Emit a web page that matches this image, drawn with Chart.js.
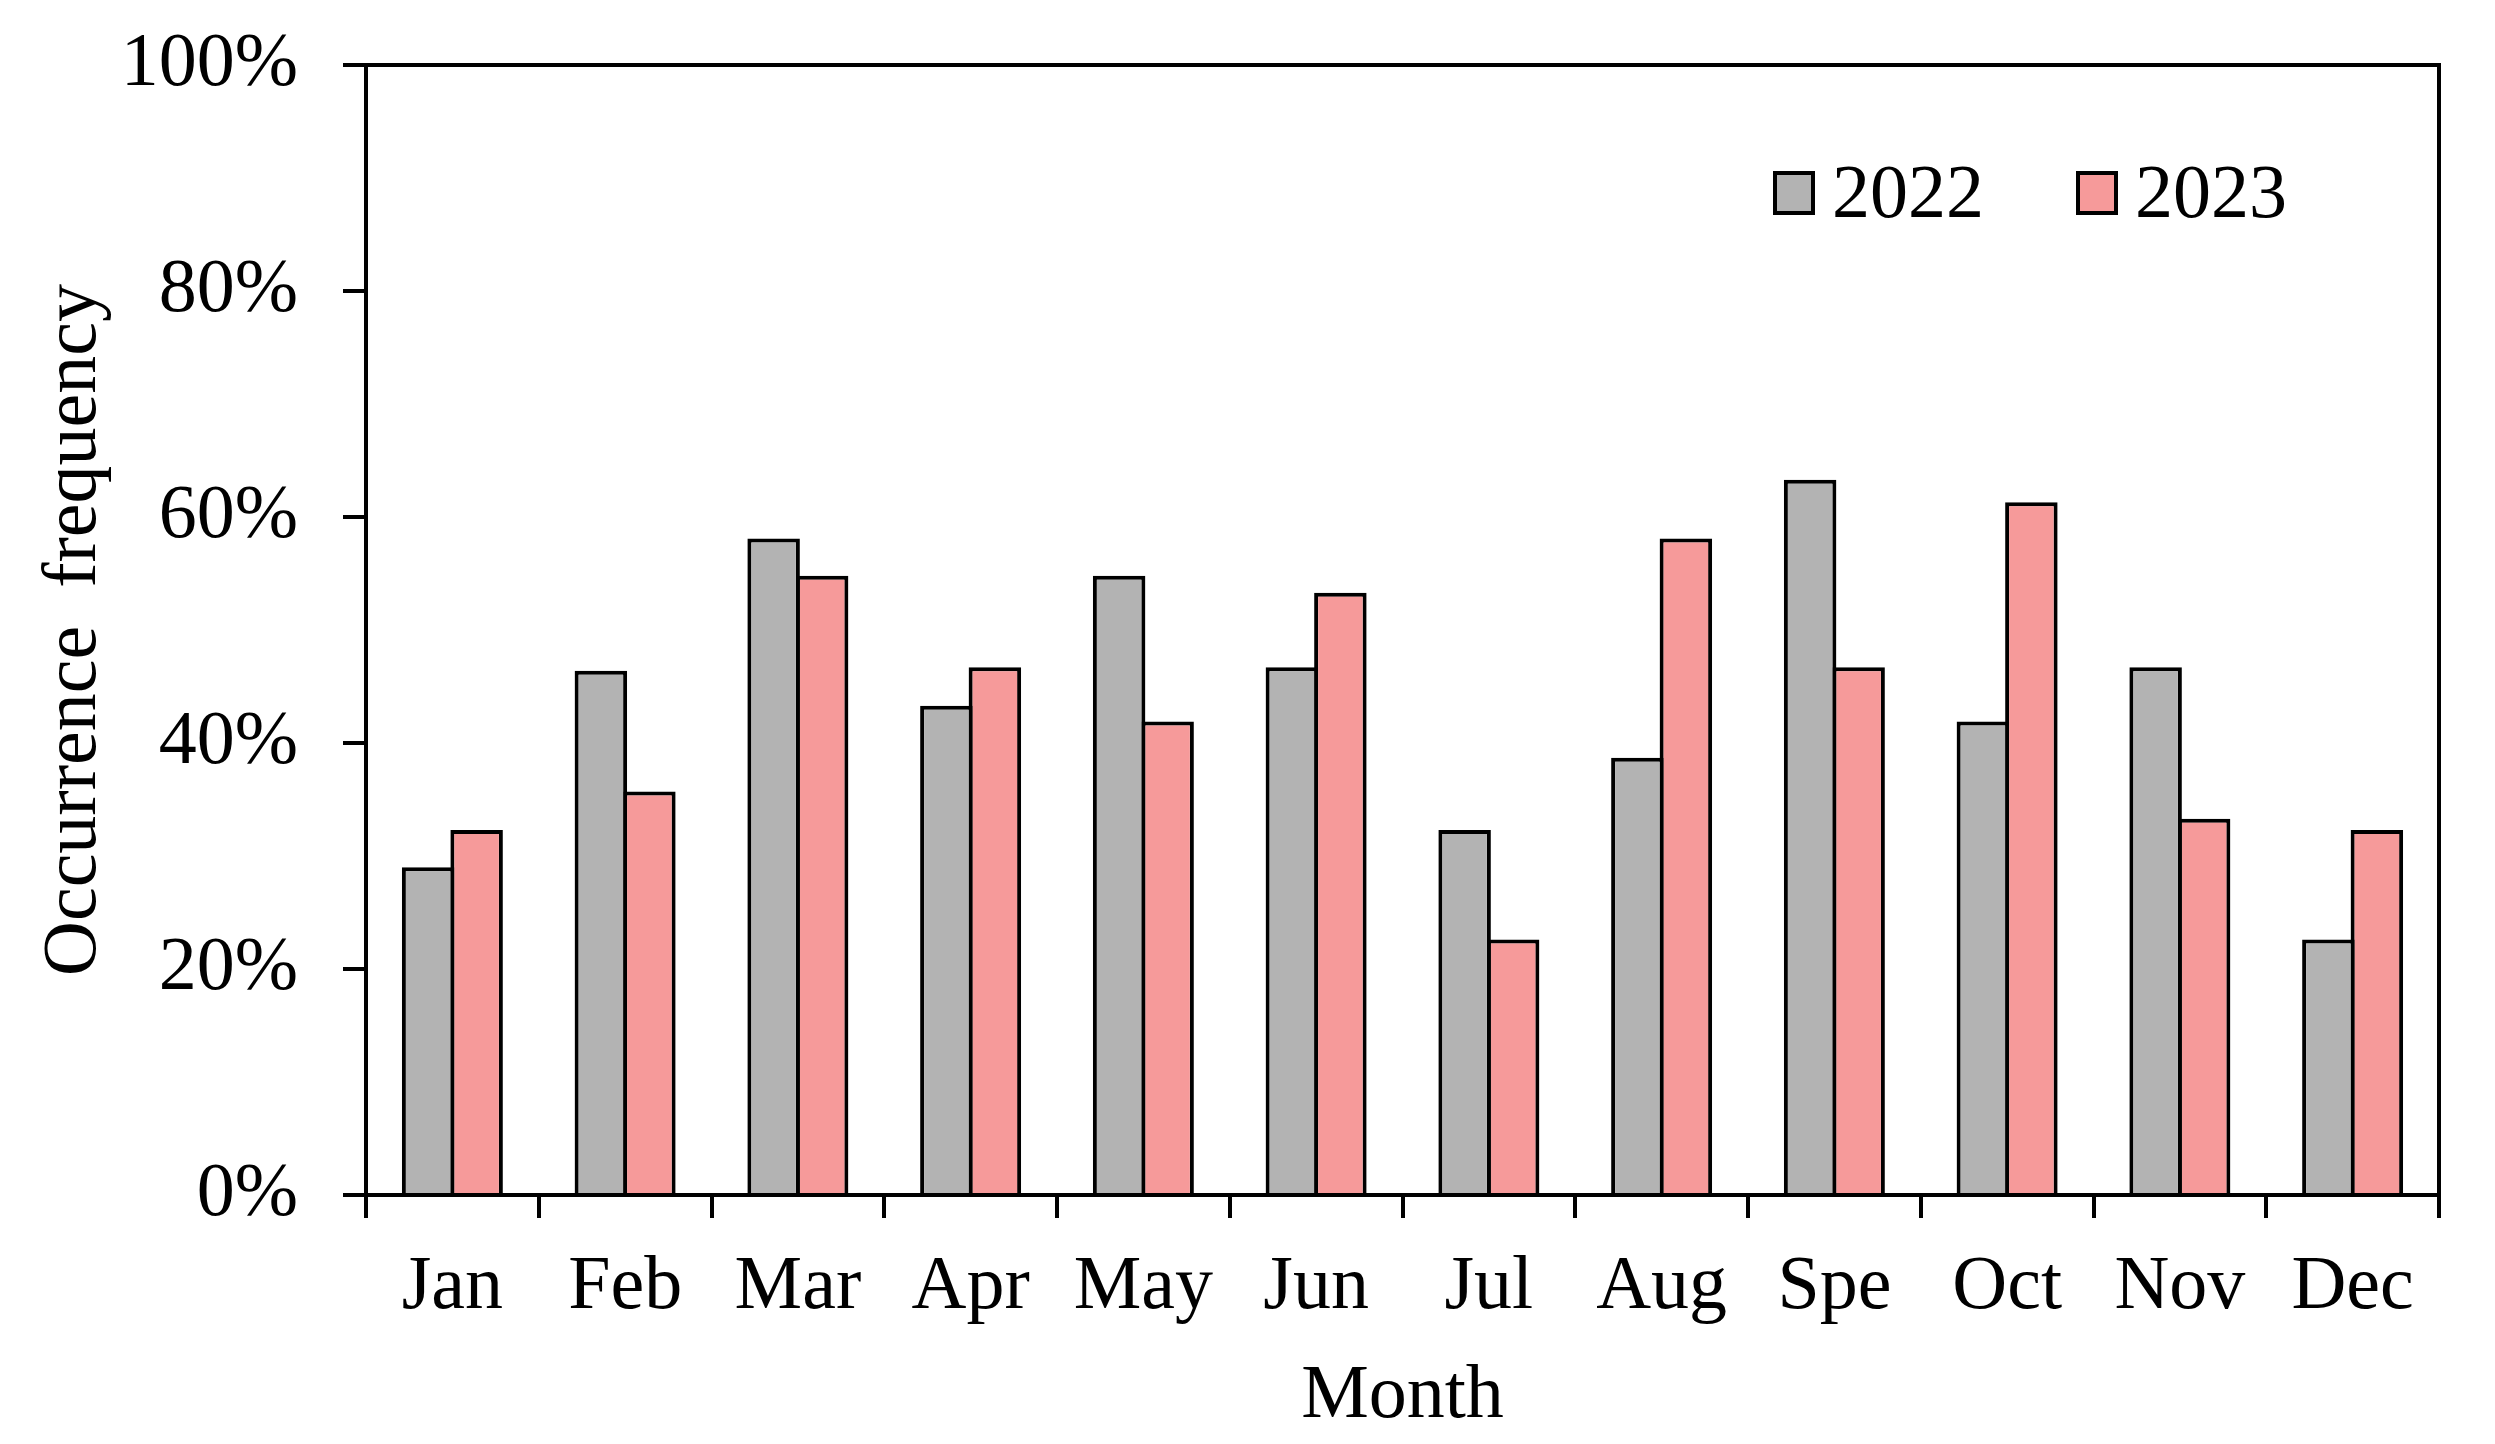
<!DOCTYPE html>
<html>
<head>
<meta charset="utf-8">
<script src="https://cdn.jsdelivr.net/npm/chart.js@4"></script>
<style>
  html, body { margin: 0; padding: 0; background: #fff; }
  canvas { display: block; }
</style>
</head>
<body>
<canvas id="c" width="2495" height="1444"></canvas>
<script>
// 月ごとの発生頻度（%）
const months = ["Jan", "Feb", "Mar", "Apr", "May", "Jun", "Jul", "Aug", "Spe", "Oct", "Nov", "Dec"];
const freq2022 = [29.0, 46.4, 58.1, 43.3, 54.8, 46.7, 32.3, 38.7, 63.3, 41.9, 46.7, 22.6];
const freq2023 = [32.3, 35.7, 54.8, 46.7, 41.9, 53.3, 22.6, 58.1, 46.7, 61.3, 33.3, 32.3];
const yTicks = [0, 20, 40, 60, 80, 100];

const FONT = "'Liberation Serif', 'Times New Roman', serif";
const SIZE = 76;

// 枠線（上・右）
const framePlugin = {
  id: "frame",
  afterDraw(chart) {
    const { ctx, chartArea: a } = chart;
    ctx.save();
    ctx.strokeStyle = "#000";
    ctx.lineWidth = 4;
    ctx.beginPath();
    ctx.moveTo(a.left - 2, a.top);
    ctx.lineTo(a.right, a.top);
    ctx.lineTo(a.right, a.bottom);
    ctx.stroke();
    ctx.restore();
  }
};

// 凡例（プロット内右上）
const legendPlugin = {
  id: "innerLegend",
  afterDraw(chart) {
    const { ctx, chartArea: a } = chart;
    const offsets = [666, 363];
    ctx.save();
    ctx.font = `${SIZE}px ${FONT}`;
    ctx.textBaseline = "alphabetic";
    chart.data.datasets.forEach((ds, i) => {
      const x = a.right - offsets[i];
      const y = a.top + 106;
      ctx.fillStyle = "#000";
      ctx.fillRect(x, y, 42, 44);
      ctx.fillStyle = ds.backgroundColor;
      ctx.fillRect(x + 4, y + 4, 34, 36);
      ctx.fillStyle = "#000";
      ctx.fillText(ds.label, x + 59, a.top + 152);
    });
    ctx.restore();
  }
};

new Chart(document.getElementById("c").getContext("2d"), {
  type: "bar",
  data: {
    labels: months,
    datasets: [
      {
        label: "2022",
        data: freq2022,
        backgroundColor: "#b3b3b3",
        borderColor: "#000",
        borderWidth: 4,
        borderSkipped: "bottom",
        categoryPercentage: 0.5615,
        barPercentage: 1.0825
      },
      {
        label: "2023",
        data: freq2023,
        backgroundColor: "#f69a9a",
        borderColor: "#000",
        borderWidth: 4,
        borderSkipped: "bottom",
        categoryPercentage: 0.5615,
        barPercentage: 1.0825
      }
    ]
  },
  options: {
    responsive: false,
    devicePixelRatio: 1,
    animation: false,
    layout: { padding: { top: 65, right: 56, left: 0, bottom: 0 } },
    plugins: {
      legend: { display: false },
      tooltip: { enabled: false }
    },
    scales: {
      x: {
        grid: {
          offset: true,
          drawOnChartArea: false,
          color: "#000",
          lineWidth: 4,
          tickLength: 23
        },
        border: { color: "#000", width: 4 },
        ticks: {
          color: "#000",
          font: { family: FONT, size: SIZE },
          padding: 24,
          maxRotation: 0,
          autoSkip: false
        },
        title: {
          display: true,
          text: "Month",
          color: "#000",
          font: { family: FONT, size: SIZE },
          padding: { top: 0, bottom: 1 }
        },
        afterFit(scale) { scale.height = 249; scale.paddingLeft = 0; scale.paddingRight = 0; }
      },
      y: {
        min: 0,
        max: 100,
        afterBuildTicks(scale) { scale.ticks = yTicks.map(v => ({ value: v })); },
        grid: {
          drawOnChartArea: false,
          color: "#000",
          lineWidth: 4,
          tickLength: 23
        },
        border: { color: "#000", width: 4 },
        ticks: {
          color: "#000",
          font: { family: FONT, size: SIZE },
          padding: 45,
          callback: v => v + "%"
        },
        title: {
          display: true,
          text: "Occurrence  frequency",
          color: "#000",
          font: { family: FONT, size: SIZE },
          padding: { top: 29, bottom: 0 }
        },
        afterFit(scale) { scale.width = 366; scale.paddingTop = 0; scale.paddingBottom = 0; }
      }
    }
  },
  plugins: [framePlugin, legendPlugin]
});
</script>
</body>
</html>
